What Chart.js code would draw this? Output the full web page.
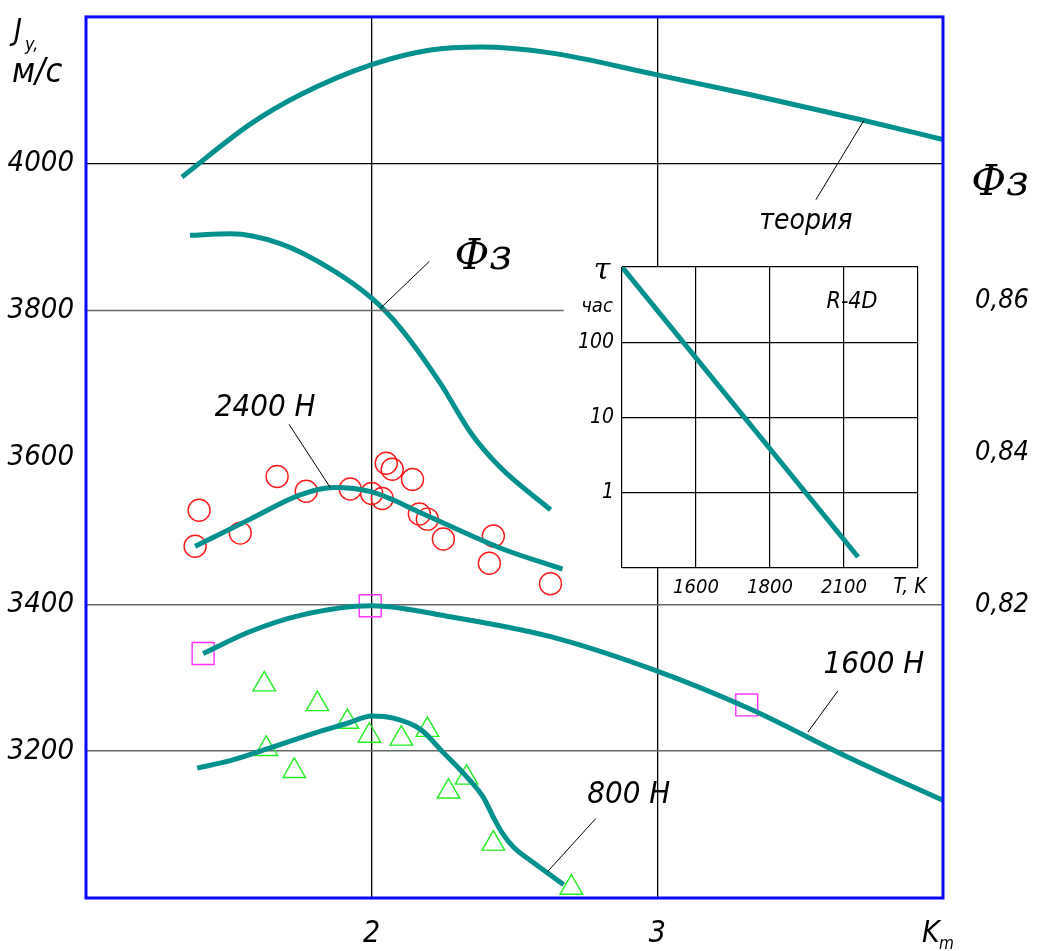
<!DOCTYPE html>
<html>
<head>
<meta charset="utf-8">
<title>J_y(K_m)</title>
<script src="https://cdn.jsdelivr.net/npm/chart.js@4.4.0/dist/chart.umd.min.js"></script>
<style>
  html, body { margin: 0; padding: 0; background: #fff; }
  #wrap { position: relative; width: 1047px; height: 951px; }
  #main { position: absolute; left: 0; top: 0; }
  #inset { position: absolute; left: 560px; top: 255px; }
</style>
</head>
<body>
<div id="wrap">
  <canvas id="main" width="1047" height="951"></canvas>
  <canvas id="inset" width="380" height="350"></canvas>
</div>
<script>
// ---- main chart: specific impulse J_y vs K_m ----
const kTicks = [2, 3];
const jTicks = [3200, 3400, 3600, 3800, 4000];
const phiTicks = [0.82, 0.84, 0.86];
const phiTickLabels = ['0,82', '0,84', '0,86'];

// theoretical curve
const theoryK = [1.336, 1.575, 1.75, 2.0, 2.206, 2.381, 2.626, 3.0, 3.327, 3.713, 4.0];
const theoryJ = [3982, 4054, 4094, 4135, 4155, 4159, 4151, 4121, 4094, 4060, 4033];

// combustion efficiency curve (right axis)
const phiK = [1.364, 1.505, 1.68, 1.855, 2.0, 2.1, 2.24, 2.346, 2.45, 2.626];
const phiV = [0.8687, 0.8689, 0.8676, 0.8643, 0.8604, 0.8565, 0.8492, 0.8427, 0.8381, 0.8325];

// 2400 H
const k2400 = [1.382, 1.575, 1.75, 1.866, 2.0, 2.181, 2.346, 2.461, 2.668];
const j2400 = [3479, 3516, 3549, 3559, 3553, 3523, 3494, 3475, 3448];
const k2400pts = [1.382, 1.396, 1.540, 1.669, 1.771, 1.925, 2.0, 2.037, 2.051, 2.072, 2.143, 2.167, 2.195, 2.251, 2.426, 2.412, 2.626];
const j2400pts = [3479, 3528, 3497, 3574, 3554, 3557, 3551, 3544, 3592, 3584, 3570, 3523, 3516, 3489, 3493, 3456, 3428];

// 1600 H
const k1600 = [1.41, 1.575, 1.75, 2.0, 2.276, 2.626, 3.0, 3.327, 3.677, 4.0];
const j1600 = [3333, 3363, 3385, 3398, 3383, 3356, 3309, 3257, 3190, 3133];
const k1600pts = [1.410, 1.995, 3.313];
const j1600pts = [3333, 3398, 3263];

// 800 H
const k800 = [1.389, 1.505, 1.634, 1.795, 1.915, 2.0, 2.076, 2.170, 2.251, 2.335, 2.391, 2.426, 2.458, 2.497, 2.556, 2.616, 2.672];
const j800 = [3177, 3187, 3203, 3224, 3238, 3248, 3245, 3230, 3198, 3164, 3137, 3110, 3088, 3069, 3051, 3034, 3018];
const k800pts = [1.624, 1.810, 1.915, 1.992, 1.631, 1.729, 2.104, 2.195, 2.332, 2.269, 2.426, 2.699];
const j800pts = [3291, 3264, 3240, 3221, 3203, 3173, 3217, 3229, 3164, 3145, 3074, 3014];

// ---- inset: life time tau vs temperature (R-4D) ----
const tTicks = [1400, 1600, 1800, 2000, 2200];
const tTickLabels = ['', '1600', '1800', '2100', ''];
const tauTicks = [0.1, 1, 10, 100, 1000];
const tauTickLabels = ['', '1', '10', '100', ''];
const insetT = [1400, 2038];
const insetTau = [1000, 0.14];

const FONT = "'DejaVu Sans Condensed', 'DejaVu Sans', sans-serif";
const SCRIPT = "'DejaVu Serif', 'Liberation Serif', serif";
const TEAL = '#00918f';

const pts = (xs, ys) => xs.map((x, i) => ({ x, y: ys[i] }));

const curve = (xs, ys, axis) => ({
  data: pts(xs, ys), yAxisID: axis || 'y',
  borderColor: TEAL, borderWidth: 5, pointRadius: 0,
  cubicInterpolationMode: 'monotone', fill: false, borderCapStyle: 'butt'
});
const markers = (xs, ys, style, color, r) => ({
  data: pts(xs, ys), yAxisID: 'y', showLine: false,
  pointStyle: style, pointRadius: r, pointBorderColor: color,
  pointBackgroundColor: 'rgba(0,0,0,0)', pointBorderWidth: 1.4
});

// scales keep exactly the size they are given, no extra label padding
const noPad = s => { s.paddingTop = 0; s.paddingBottom = 0; s.paddingLeft = 0; s.paddingRight = 0; };

// callouts: leader line from (k1,j1) to (k2,j2), label at (tk,tj)
const callouts = [
  { k1: 3.723, j1: 4059, k2: 3.555, j2: 3951, tk: 3.52, tj: 3921, text: 'теория', size: 28 },
  { k1: 2.202, j1: 3867, k2: 2.030, j2: 3803 },
  { k1: 1.711, j1: 3645, k2: 1.855, j2: 3559, tk: 1.627, tj: 3668, text: '2400 H', size: 31 },
  { k1: 3.632, j1: 3282, k2: 3.527, j2: 3226, tk: 3.758, tj: 3318, text: '1600 H', size: 31 },
  { k1: 2.784, j1: 3108, k2: 2.616, j2: 3036, tk: 2.90, tj: 3140, text: '800 H', size: 31 }
];

const mainDecor = {
  id: 'mainDecor',
  afterDatasetsDraw(chart) {
    const { ctx, chartArea: a, scales } = chart;
    const X = v => scales.x.getPixelForValue(v);
    const Y = v => scales.y.getPixelForValue(v);
    ctx.save();
    // partial 3800 grid line
    ctx.strokeStyle = '#666';
    ctx.lineWidth = 1.5;
    ctx.beginPath();
    ctx.moveTo(a.left, Y(3800));
    ctx.lineTo(X(2.672), Y(3800));
    ctx.stroke();
    // callouts
    ctx.strokeStyle = '#000';
    ctx.lineWidth = 1;
    ctx.fillStyle = '#000';
    ctx.textAlign = 'center';
    ctx.textBaseline = 'middle';
    callouts.forEach(c => {
      ctx.beginPath();
      ctx.moveTo(X(c.k1), Y(c.j1));
      ctx.lineTo(X(c.k2), Y(c.j2));
      ctx.stroke();
      if (c.text) {
        ctx.font = 'italic ' + c.size + 'px ' + FONT;
        ctx.fillText(c.text, X(c.tk), Y(c.tj));
      }
    });
    // efficiency symbols
    ctx.font = 'italic 42px ' + SCRIPT;
    ctx.fillText('Фз', X(2.391), Y(3871));
    ctx.fillText('Фз', X(4.20), Y(3972));
    // axis titles
    ctx.textAlign = 'left';
    ctx.textBaseline = 'alphabetic';
    ctx.font = 'italic 30px ' + FONT;
    ctx.fillText('J', 14, 40);
    ctx.font = 'italic 18px ' + FONT;
    ctx.fillText('y,', 25, 50);
    ctx.font = 'italic 34px ' + FONT;
    ctx.fillText('м/с', 12, 82);
    ctx.font = 'italic 30px ' + FONT;
    ctx.fillText('K', 922, 942);
    ctx.font = 'italic 17px ' + FONT;
    ctx.fillText('m', 939, 949);
    // frame
    ctx.strokeStyle = '#0a0af5';
    ctx.lineWidth = 3;
    ctx.strokeRect(a.left, a.top, a.right - a.left, a.bottom - a.top);
    ctx.restore();
  }
};

new Chart(document.getElementById('main'), {
  type: 'line',
  data: {
    datasets: [
      curve(theoryK, theoryJ),
      curve(phiK, phiV, 'y2'),
      curve(k2400, j2400),
      curve(k1600, j1600),
      curve(k800, j800),
      markers(k2400pts, j2400pts, 'circle', '#ff1a1a', 11),
      markers(k1600pts, j1600pts, 'rect', '#ff33ff', 15.5),
      markers(k800pts, j800pts, 'triangle', '#22ee22', 13)
    ]
  },
  options: {
    responsive: false,
    animation: false,
    layout: { padding: { top: 12, left: 0, right: 0, bottom: 0 } },
    plugins: { legend: { display: false }, tooltip: { enabled: false } },
    scales: {
      x: {
        type: 'linear', min: 1, max: 4,
        afterBuildTicks: s => { s.ticks = kTicks.map(v => ({ value: v })); },
        afterFit: s => { s.height = 53; noPad(s); },
        border: { display: false },
        grid: { color: '#000', lineWidth: 1.3, drawTicks: false },
        ticks: { padding: 18, color: '#000', font: { family: FONT, size: 30, style: 'italic' },
                 callback: v => String(v) }
      },
      y: {
        type: 'linear', position: 'left', min: 3000, max: 4200,
        afterBuildTicks: s => { s.ticks = jTicks.map(v => ({ value: v })); },
        afterFit: s => { s.width = 86; noPad(s); },
        border: { display: false },
        grid: {
          drawTicks: false,
          color: c => {
            const v = c.tick && c.tick.value;
            if (v === 4000) return '#000';
            if (v === 3400 || v === 3200) return '#666';
            return 'rgba(0,0,0,0)';
          },
          lineWidth: c => (c.tick && c.tick.value === 4000) ? 1.2 : 1.6
        },
        ticks: { padding: 12, color: '#000', font: { family: FONT, size: 29, style: 'italic' },
                 callback: v => String(v) }
      },
      y2: {
        type: 'linear', position: 'right', min: 0.7813, max: 0.8975,
        afterBuildTicks: s => { s.ticks = phiTicks.map(v => ({ value: v })); },
        afterFit: s => { s.width = 104; noPad(s); },
        border: { display: false },
        grid: { display: false, drawTicks: false },
        ticks: { padding: 32, color: '#000', font: { family: FONT, size: 27, style: 'italic' },
                 callback: v => phiTickLabels[phiTicks.findIndex(t => Math.abs(t - v) < 1e-6)] }
      }
    }
  },
  plugins: [mainDecor]
});

const insetDecor = {
  id: 'insetDecor',
  beforeDraw(chart) {
    const { ctx, chartArea: a } = chart;
    ctx.save();
    ctx.fillStyle = '#fff';
    ctx.fillRect(a.left, a.top, a.right - a.left, a.bottom - a.top);
    ctx.restore();
  },
  afterDatasetsDraw(chart) {
    const { ctx } = chart;
    ctx.save();
    ctx.fillStyle = '#000';
    ctx.textAlign = 'center';
    ctx.textBaseline = 'middle';
    ctx.font = 'italic 30px ' + SCRIPT;
    ctx.fillText('τ', 42, 16);
    ctx.font = 'italic 20px ' + FONT;
    ctx.fillText('час', 37, 52);
    ctx.font = 'italic 23px ' + FONT;
    ctx.fillText('R-4D', 292, 47);
    ctx.font = 'italic 21px ' + FONT;
    ctx.fillText('T, K', 350, 333);
    ctx.restore();
  }
};

new Chart(document.getElementById('inset'), {
  type: 'line',
  data: {
    datasets: [{
      data: pts(insetT, insetTau),
      borderColor: TEAL, borderWidth: 5, pointRadius: 0, fill: false
    }]
  },
  options: {
    responsive: false,
    animation: false,
    layout: { padding: { top: 12, right: 22, left: 0, bottom: 0 } },
    plugins: { legend: { display: false }, tooltip: { enabled: false } },
    scales: {
      x: {
        type: 'linear', min: 1400, max: 2200,
        afterBuildTicks: s => { s.ticks = tTicks.map(v => ({ value: v })); },
        afterFit: s => { s.height = 37; noPad(s); },
        border: { display: false },
        grid: { color: '#000', lineWidth: 1.2, drawTicks: false },
        ticks: { padding: 8, color: '#000', maxRotation: 0, autoSkip: false,
                 font: { family: FONT, size: 20, style: 'italic' },
                 callback: (v, i) => tTickLabels[i] }
      },
      y: {
        type: 'logarithmic', min: 0.1, max: 1000,
        afterBuildTicks: s => { s.ticks = tauTicks.map(v => ({ value: v })); },
        afterFit: s => { s.width = 62; noPad(s); },
        border: { display: false },
        grid: { color: '#000', lineWidth: 1.2, drawTicks: false },
        ticks: { padding: 8, color: '#000', autoSkip: false,
                 font: { family: FONT, size: 21, style: 'italic' },
                 callback: (v, i) => tauTickLabels[i] }
      }
    }
  },
  plugins: [insetDecor]
});
</script>
</body>
</html>
